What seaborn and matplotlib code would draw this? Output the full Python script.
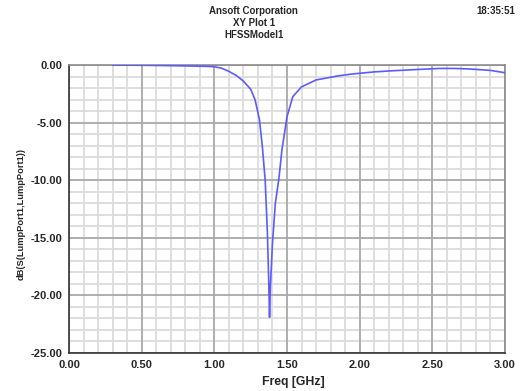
import numpy as np
import pandas as pd
import seaborn as sns
import matplotlib.pyplot as plt
from matplotlib.ticker import MultipleLocator

# dane
freq_ghz = [0.30, 0.45, 0.60, 0.80, 0.95, 1.00, 1.05, 1.10, 1.15, 1.20, 1.25,
            1.28, 1.31, 1.33, 1.35, 1.365, 1.375, 1.38, 1.385, 1.40, 1.42,
            1.445, 1.465, 1.50, 1.54, 1.60, 1.70, 1.85, 1.95, 2.10, 2.20,
            2.40, 2.55, 2.65, 2.75, 2.90, 3.00]
s11_db = [-0.01, -0.02, -0.04, -0.08, -0.12, -0.15, -0.28, -0.55, -0.90, -1.40,
          -2.10, -3.00, -4.70, -7.00, -10.0, -14.5, -19.0, -21.9, -19.5, -15.5,
          -12.0, -9.8, -7.4, -4.5, -2.75, -1.90, -1.30, -0.95, -0.78, -0.60,
          -0.52, -0.39, -0.30, -0.30, -0.34, -0.47, -0.67]

df = pd.DataFrame({'Freq': freq_ghz, 'dB': s11_db})

sns.set_style('white')
plt.rcParams['font.family'] = ['Liberation Sans', 'DejaVu Sans']

fig = plt.figure(figsize=(5.29, 3.91), dpi=100)
ax = fig.add_axes([0.1304, 0.0972, 0.8242, 0.7366])

sns.lineplot(data=df, x='Freq', y='dB', ax=ax, color='#5b5bff', linewidth=1.2, zorder=3)

ax.set_xlim(0, 3)
ax.set_ylim(-25, 0)
ax.xaxis.set_major_locator(MultipleLocator(0.5))
ax.xaxis.set_minor_locator(MultipleLocator(0.1))
ax.yaxis.set_major_locator(MultipleLocator(5))
ax.yaxis.set_minor_locator(MultipleLocator(1))
ax.xaxis.set_major_formatter(lambda v, p: f"{v:.2f}")
ax.yaxis.set_major_formatter(lambda v, p: f"{v:.2f}")

# siatka: drobna jasna, glowna ciemniejsza nad nia
ax.grid(which='minor', color='#dcdcdc', linewidth=1.3, linestyle='-')
ax.grid(which='major', visible=False)
ax.set_axisbelow(True)
for xv in ax.get_xticks():
    ax.axvline(xv, color='#a8a8a8', linewidth=1.3, zorder=1)
for yv in ax.get_yticks():
    ax.axhline(yv, color='#a8a8a8', linewidth=1.3, zorder=1)

ax.tick_params(which='both', direction='out', color='#555555', labelsize=8)
ax.tick_params(which='major', length=4, width=0.8, pad=1)
ax.tick_params(which='minor', length=2.5, width=0.6)
for lab in ax.get_xticklabels() + ax.get_yticklabels():
    lab.set_fontweight('bold')

for side in ['top', 'right']:
    ax.spines[side].set_color('#8c8c8c')
    ax.spines[side].set_linewidth(1.2)
for side in ['left', 'bottom']:
    ax.spines[side].set_color('#333333')
    ax.spines[side].set_linewidth(1.2)

ax.set_xlabel('Freq [GHz]', fontsize=8.8, fontweight='bold')
ax.xaxis.set_label_coords(0.514, -0.079)
ax.set_ylabel('dB(S(LumpPort1,LumpPort1))', fontsize=6.7, fontweight='bold')
ax.yaxis.set_label_coords(-0.099, 0.483)

fig.text(0.48, 0.972, 'Ansoft Corporation', ha='center', va='center', fontsize=7, fontweight='bold')
fig.text(0.48, 0.941, 'XY Plot 1', ha='center', va='center', fontsize=7, fontweight='bold')
fig.text(0.48, 0.910, 'HFSSModel1', ha='center', va='center', fontsize=7, fontweight='bold')
fig.text(0.937, 0.972, '18:35:51', ha='center', va='center', fontsize=7, fontweight='bold')

plt.savefig('out.png', dpi=100)
